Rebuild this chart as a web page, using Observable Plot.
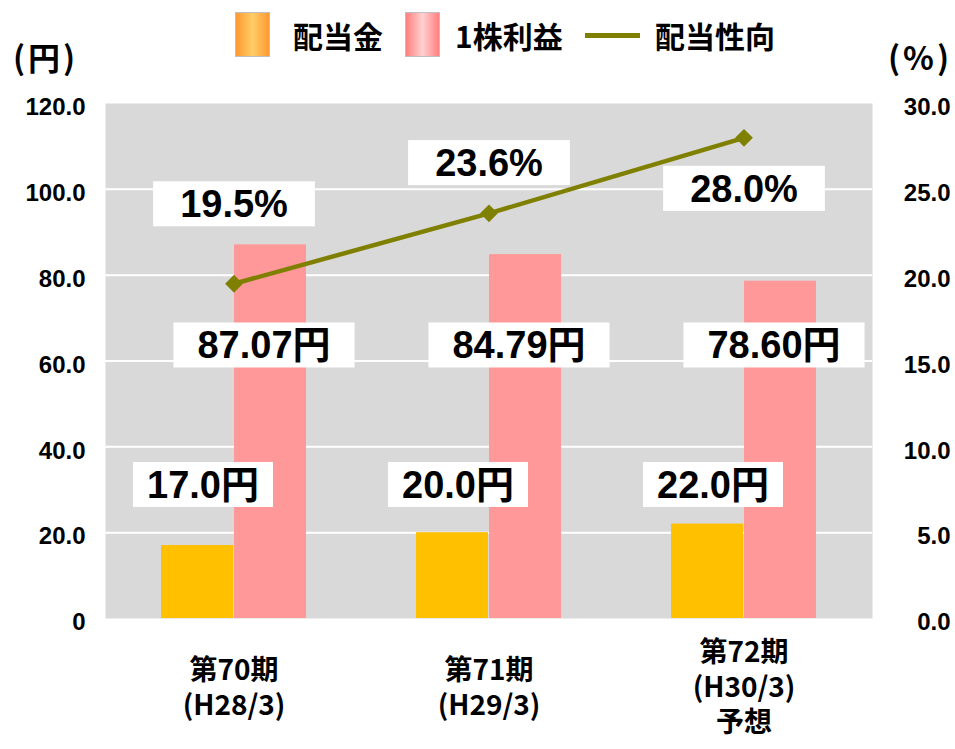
<!DOCTYPE html>
<html>
<head>
<meta charset="utf-8">
<script src="https://cdn.jsdelivr.net/npm/d3@7"></script>
<script src="https://cdn.jsdelivr.net/npm/@observablehq/plot@0.6"></script>
<style>
  html, body { margin: 0; padding: 0; background: #ffffff; }
  #wrap { position: relative; width: 955px; height: 749px; overflow: hidden; }
  #chart { position: absolute; left: 0; top: 0; }
  .jp { font-family: "Noto Sans CJK JP", "Liberation Sans", sans-serif; font-weight: bold; color: #000; position: absolute; white-space: nowrap; }
  .legend-text { font-size: 30px; line-height: 40px; top: 15px; }
  .sw { position: absolute; top: 12px; width: 35px; height: 45px; box-sizing: border-box; border: 1px solid #bfbfbf; }
  .unit { font-size: 32px; line-height: 36px; top: 38px; letter-spacing: 3px; }
</style>
</head>
<body>
<div id="wrap">
  <div id="chart"></div>
  <div class="sw" style="left:235px; background: linear-gradient(to right, #ff9933, #ffcc66 50%, #ff9933);"></div>
  <div class="jp legend-text" style="left:293px;">配当金</div>
  <div class="sw" style="left:405px; background: linear-gradient(to right, #ff8080, #ffd0d0 50%, #ff8080);"></div>
  <div class="jp legend-text" style="left:455px;">1株利益</div>
  <div style="position:absolute; left:585px; top:33px; width:55px; height:5px; background:#808000;"></div>
  <div class="jp legend-text" style="left:655px;">配当性向</div>
  <div class="jp unit" style="left:13px;">(円)</div>
  <div class="jp unit" style="left:888px;">(%)</div>
</div>
<script>
// ---- data ----
const categories = ["第70期\n(H28/3)", "第71期\n(H29/3)", "第72期\n(H30/3)\n予想"];
const dividend = [17.0, 20.0, 22.0];
const eps = [87.07, 84.79, 78.60];
const payoutRatio = [19.5, 23.6, 28.0];
const dividendLabels = ["17.0円", "20.0円", "22.0円"];
const epsLabels = ["87.07円", "84.79円", "78.60円"];
const ratioLabels = ["19.5%", "23.6%", "28.0%"];
const leftTicks = [0, 20, 40, 60, 80, 100, 120];
const rightTicks = [0, 5, 10, 15, 20, 25, 30];

// ---- layout ----
const ratioToYen = 120 / 30;            // secondary axis mapping
const divLabelLevel = 31;              // label placement (yen units)
const epsLabelLevel = 63.5;
const pctLabelShift = [4.6, 2.9, -3.0]; // label placement relative to point (%)

const rows = categories.map((c, i) => ({
  cat: c, div: dividend[i], eps: eps[i], ratio: payoutRatio[i],
  divLabel: dividendLabels[i], epsLabel: epsLabels[i], ratioLabel: ratioLabels[i], i
}));

const numFont = "'Liberation Sans', Arial, 'Noto Sans CJK JP', sans-serif";
const jpFont = "'Noto Sans CJK JP', 'Liberation Sans', sans-serif";

const plot = Plot.plot({
  width: 955,
  height: 749,
  marginLeft: 105,
  marginRight: 83,
  marginTop: 103,
  marginBottom: 131,
  style: {fontFamily: numFont, background: "transparent", overflow: "visible"},
  x: {domain: categories, padding: 0, axis: null},
  y: {domain: [0, 120]},
  marks: [
    Plot.frame({fill: "#d9d9d9", stroke: "none"}),
    Plot.gridY([20, 40, 60, 80, 100], {stroke: "#ffffff", strokeOpacity: 1, strokeWidth: 2}),
    Plot.barY(rows, {x: "cat", y: "div", fill: "#ffc000", insetLeft: 55, insetRight: 128}),
    Plot.barY(rows, {x: "cat", y: "eps", fill: "#ff9999", insetLeft: 128, insetRight: 55}),
    Plot.line(rows, {x: "cat", y: d => d.ratio * ratioToYen, stroke: "#808000", strokeWidth: 4.5}),
    Plot.dot(rows, {x: "cat", y: d => d.ratio * ratioToYen, symbol: "diamond2", r: 8, fill: "#808000", stroke: "none"}),
    Plot.text(rows, {x: "cat", y: () => divLabelLevel, text: "divLabel", dx: -31,
      fontSize: 38, fontWeight: "bold", fill: "#000", ariaLabel: () => "box-div"}),
    Plot.text(rows, {x: "cat", y: () => epsLabelLevel, text: "epsLabel", dx: 30,
      fontSize: 38, fontWeight: "bold", fill: "#000", ariaLabel: () => "box-eps"}),
    Plot.text(rows, {x: "cat", y: d => (d.ratio + pctLabelShift[d.i]) * ratioToYen, text: "ratioLabel",
      fontSize: 38, fontWeight: "bold", fill: "#000", ariaLabel: () => "box-pct"}),
    Plot.axisY(leftTicks, {anchor: "left", tickSize: 0, tickPadding: 20, label: null,
      tickFormat: d => d === 0 ? "0" : d.toFixed(1), fontSize: 24, fontWeight: "bold", dy: 4}),
    Plot.axisY(rightTicks.map(v => v * ratioToYen), {anchor: "right", tickSize: 0, tickPadding: 78, label: null,
      textAnchor: "end", tickFormat: d => (d / ratioToYen).toFixed(1), fontSize: 24, fontWeight: "bold", dy: 4}),
    Plot.text(rows, {x: "cat", text: "cat", frameAnchor: "bottom", dy: 67.5, lineAnchor: "middle",
      lineHeight: 1.25, fontSize: 28, fontWeight: "bold", fontFamily: jpFont, fill: "#000"})
  ]
});
document.getElementById("chart").appendChild(plot);

// white boxes behind data labels
const pads = {"box-div": 14, "box-eps": 24, "box-pct": 27};
const boxH = 45;
plot.querySelectorAll('text[aria-label^="box-"]').forEach(t => {
  const padX = pads[t.getAttribute("aria-label")] || 15;
  const bb = t.getBBox();
  const yAttr = t.getAttribute("y");
  const ty = (yAttr && !/em$/.test(yAttr) && isFinite(+yAttr)) ? +yAttr : 0;
  const r = document.createElementNS("http://www.w3.org/2000/svg", "rect");
  r.setAttribute("x", bb.x - padX);
  r.setAttribute("width", bb.width + 2 * padX);
  r.setAttribute("y", ty - boxH / 2 - 1);
  r.setAttribute("height", boxH);
  r.setAttribute("fill", "#ffffff");
  r.setAttribute("stroke", "none");
  if (t.getAttribute("transform")) r.setAttribute("transform", t.getAttribute("transform"));
  t.parentNode.insertBefore(r, t);
});
</script>
</body>
</html>
